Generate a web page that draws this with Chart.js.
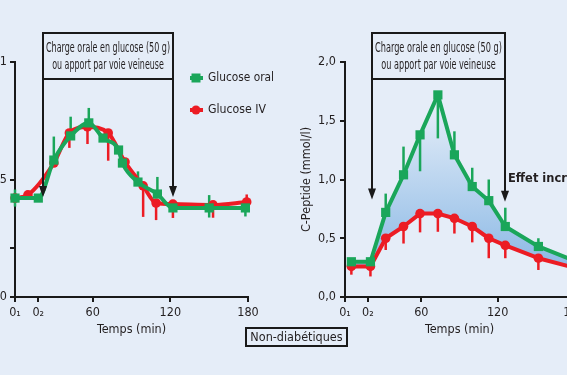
<!DOCTYPE html>
<html><head><meta charset="utf-8">
<script src="https://cdn.jsdelivr.net/npm/chart.js@4/dist/chart.umd.min.js"></script>
<style>
html,body{margin:0;padding:0;width:567px;height:375px;overflow:hidden;background:#e5edf8;}
#c1{position:absolute;left:-40px;top:0;}
#c2{position:absolute;left:290px;top:0;}
#nd{position:absolute;left:245px;top:327px;width:99px;height:16px;border:2px solid #1a1a1a;font:12.5px 'Liberation Sans Narrow','DejaVu Sans Condensed',sans-serif;color:#231f20;text-align:center;line-height:16px;}
</style></head><body>
<canvas id="c1" width="400" height="375"></canvas>
<canvas id="c2" width="304" height="375"></canvas>
<div id="nd">Non-diabétiques</div>
<script>
// ---------- DATA ----------
const X_TICKS = [0, 18, 60, 120, 180];
const X_TICK_LABELS = ['0\u2081', '0\u2082', '60', '120', '180'];

// Left panel: glucose (mmol/l, axis cropped)
const Y1_TICKS = [0, 2.3, 5.5, 11];
const Y1_LABELS = ['0', '', '5,5', '11'];
const T_ORAL_1 = [0, 18, 30, 43, 57, 68, 80, 83, 95, 110, 122, 150, 178];
const ORAL_1 = [4.63, 4.63, 6.41, 7.54, 8.15, 7.44, 6.88, 6.27, 5.38, 4.82, 4.17, 4.17, 4.17];
const ORAL_1_UP = [0.4, 0, 1.1, 0.9, 0.7, 0, 0, 0, 0.5, 0.8, 0, 0.6, 0.4];
const ORAL_1_DN = [0.4, 0, 0, 0, 0, 0, 0, 0, 0, 0, 0, 0.45, 0.4];
const T_IV_1 = [0, 10, 30, 42, 56, 72, 85, 99, 109, 122, 153, 179];
const IV_1 = [4.63, 4.78, 6.27, 7.68, 7.96, 7.68, 6.32, 5.20, 4.40, 4.35, 4.31, 4.45];
const IV_1_UP = [0, 0, 0, 0, 0, 0, 0, 0, 0, 0, 0, 0.35];
const IV_1_DN = [0, 0, 0, 0.7, 0.8, 1.3, 0, 1.45, 0.8, 0.65, 0.6, 0.45];

// Right panel: C-Peptide (mmol/l)
const T_2 = [5, 20, 32, 46, 59, 73, 86, 100, 113, 126, 152, 180];
const ORAL_2 = [0.30, 0.30, 0.72, 1.04, 1.38, 1.72, 1.21, 0.94, 0.82, 0.60, 0.43, 0.31];
const ORAL_2_UP = [0.03, 0, 0.16, 0.24, 0, 0, 0.20, 0.16, 0.18, 0.16, 0.07, 0];
const ORAL_2_DN = [0, 0, 0, 0, 0.31, 0.37, 0, 0, 0, 0, 0, 0];
const IV_2 = [0.26, 0.26, 0.50, 0.60, 0.71, 0.71, 0.67, 0.60, 0.50, 0.44, 0.33, 0.25];
const IV_2_UP = [0, 0, 0, 0, 0, 0, 0, 0, 0, 0, 0, 0];
const IV_2_DN = [0.07, 0.085, 0.10, 0.145, 0.16, 0.155, 0.13, 0.135, 0.17, 0.11, 0.10, 0];

const BOX_TEXT = ['Charge orale en glucose (50 g)', 'ou apport par voie veineuse'];
const LEGEND = ['Glucose oral', 'Glucose IV'];
const X_TITLE = 'Temps (min)';
const Y2_TITLE = 'C-Peptide (mmol/l)';
const EFFECT_TEXT = 'Effet incrétine';

// ---------- STYLE ----------
const FONT = "'Liberation Sans Narrow','DejaVu Sans Condensed',sans-serif";
const GREEN = '#1aa65a', RED = '#ec1c24', INK = '#1a1a1a', TXT = '#231f20';
Chart.defaults.font.family = FONT;
Chart.defaults.font.size = 12;
Chart.defaults.color = TXT;

const pts = (ts, vs) => ts.map((t, i) => ({x: t, y: vs[i]}));

function xScale() {
  return {
    type: 'linear', min: 0, max: 180,
    afterBuildTicks: s => { s.ticks = X_TICKS.map(v => ({value: v})); },
    afterFit: s => { s.height = 42; },
    ticks: {autoSkip: false, maxRotation: 0, padding: 3, font: {size: 12.5}, callback: v => { const i = X_TICKS.indexOf(v); return i >= 0 ? X_TICK_LABELS[i] : ''; }},
    grid: {drawOnChartArea: false, drawTicks: true, tickLength: 5, color: INK, lineWidth: 2},
    border: {display: true, color: INK, width: 2},
    title: {display: true, text: X_TITLE, padding: {top: 0, bottom: 2}, font: {size: 12.5}}
  };
}

function drawErrors(chart, errs) {
  const {ctx} = chart; const y = chart.scales.y;
  ctx.save(); ctx.lineWidth = 2.5; ctx.lineCap = 'butt';
  errs.forEach((e, di) => {
    const meta = chart.getDatasetMeta(di);
    const data = chart.data.datasets[di].data;
    ctx.strokeStyle = chart.data.datasets[di].borderColor;
    meta.data.forEach((p, j) => {
      const v = data[j].y;
      const top = y.getPixelForValue(v + (e.up[j] || 0));
      const bot = y.getPixelForValue(v - (e.dn[j] || 0));
      if (top === bot) return;
      ctx.beginPath(); ctx.moveTo(p.x, top); ctx.lineTo(p.x, bot); ctx.stroke();
    });
  });
  ctx.restore();
}

function drawBox(chart, t1, t2, tip1, tip2) {
  const {ctx, chartArea} = chart; const xs = chart.scales.x, ys = chart.scales.y;
  const x1 = Math.round(xs.getPixelForValue(t1)), x2 = Math.round(xs.getPixelForValue(t2));
  const top = chartArea.top - 29, bot = chartArea.top + 17;
  const y1 = ys.getPixelForValue(tip1), y2 = ys.getPixelForValue(tip2);
  ctx.save();
  ctx.strokeStyle = INK; ctx.fillStyle = INK; ctx.lineWidth = 2;
  ctx.beginPath();
  ctx.moveTo(x1, top); ctx.lineTo(x2, top);
  ctx.moveTo(x1, bot); ctx.lineTo(x2, bot);
  ctx.moveTo(x1, top - 1); ctx.lineTo(x1, y1 - 8);
  ctx.moveTo(x2, top - 1); ctx.lineTo(x2, y2 - 8);
  ctx.stroke();
  [[x1, y1], [x2, y2]].forEach(([ax, ay]) => {
    ctx.beginPath(); ctx.moveTo(ax - 4, ay - 11); ctx.lineTo(ax + 4, ay - 11); ctx.lineTo(ax, ay); ctx.closePath(); ctx.fill();
  });
  ctx.fillStyle = TXT; ctx.font = '14px ' + FONT; ctx.textAlign = 'center'; ctx.textBaseline = 'middle';
  const cx = (x1 + x2) / 2, mw = x2 - x1 - 6;
  ctx.fillText(BOX_TEXT[0], cx, top + 15, mw);
  ctx.fillText(BOX_TEXT[1], cx, top + 32, mw * 0.9);
  ctx.restore();
  return {x1, x2};
}

const errs1 = [{up: ORAL_1_UP, dn: ORAL_1_DN}, {up: IV_1_UP, dn: IV_1_DN}];
const errs2 = [{up: ORAL_2_UP, dn: ORAL_2_DN}, {up: IV_2_UP, dn: IV_2_DN}];

const plugin1 = {
  id: 'p1',
  beforeDatasetsDraw(chart) { drawErrors(chart, errs1); },
  afterDraw(chart) {
    const {x2} = drawBox(chart, 21.6, 122, 4.68, 4.68);
    const {ctx, chartArea} = chart;
    const lx = x2 + 23, ly1 = chartArea.top + 16, ly2 = chartArea.top + 48;
    ctx.save();
    ctx.lineWidth = 4;
    ctx.strokeStyle = GREEN; ctx.beginPath(); ctx.moveTo(lx - 6, ly1); ctx.lineTo(lx + 7, ly1); ctx.stroke();
    ctx.fillStyle = GREEN; ctx.fillRect(lx - 4.5, ly1 - 4.5, 9, 9);
    ctx.strokeStyle = RED; ctx.beginPath(); ctx.moveTo(lx - 6, ly2); ctx.lineTo(lx + 7, ly2); ctx.stroke();
    ctx.fillStyle = RED; ctx.beginPath(); ctx.arc(lx, ly2, 4.5, 0, Math.PI * 2); ctx.fill();
    ctx.fillStyle = TXT; ctx.font = '13px ' + FONT; ctx.textAlign = 'left'; ctx.textBaseline = 'middle';
    ctx.fillText(LEGEND[0], lx + 12, ly1, 66);
    ctx.fillText(LEGEND[1], lx + 12, ly2, 58);
    ctx.restore();
  }
};

const plugin2 = {
  id: 'p2',
  beforeDatasetsDraw(chart) { drawErrors(chart, errs2); },
  afterDraw(chart) {
    const {x2} = drawBox(chart, 21, 126, 0.83, 0.81);
    const {ctx} = chart;
    ctx.save();
    ctx.fillStyle = TXT; ctx.font = 'bold 13px ' + FONT; ctx.textAlign = 'left'; ctx.textBaseline = 'middle';
    ctx.fillText(EFFECT_TEXT, x2 + 3, chart.scales.y.getPixelForValue(1.01), 92);
    ctx.restore();
  }
};

const lineDs = (label, data, color, style, smooth, extra) => Object.assign({
  label, data, borderColor: color, backgroundColor: color, borderWidth: 4,
  pointStyle: style, pointRadius: style === 'rect' ? 6.5 : 4.8, pointHoverRadius: 0,
  pointBackgroundColor: color, pointBorderWidth: 0, borderJoinStyle: 'round',
  cubicInterpolationMode: smooth ? 'monotone' : 'default', tension: 0, fill: false, clip: false
}, extra || {});

new Chart(document.getElementById('c1'), {
  type: 'line',
  data: {datasets: [
    lineDs(LEGEND[0], pts(T_ORAL_1, ORAL_1), GREEN, 'rect', true),
    lineDs(LEGEND[1], pts(T_IV_1, IV_1), RED, 'circle', true)
  ]},
  options: {
    responsive: false, animation: false, events: [],
    layout: {padding: {top: 62, right: 112, bottom: 36, left: 0}},
    plugins: {legend: {display: false}, tooltip: {enabled: false}},
    scales: {
      x: xScale(),
      y: {
        type: 'linear', min: 0, max: 11,
        afterBuildTicks: s => { s.ticks = Y1_TICKS.map(v => ({value: v})); },
        afterFit: s => { s.width = 55; },
        ticks: {padding: 3, font: {size: 12.5}, callback: v => { const i = Y1_TICKS.indexOf(v); return i >= 0 ? Y1_LABELS[i] : ''; }},
        grid: {drawOnChartArea: false, drawTicks: true, tickLength: 5, color: INK, lineWidth: 2},
        border: {display: true, color: INK, width: 2}
      }
    }
  },
  plugins: [plugin1]
});

const fillGrad = (c) => {
  const chart = c.chart; const ca = chart.chartArea;
  if (!ca) return 'rgba(160,196,234,0.8)';
  const y = chart.scales.y;
  const g = chart.ctx.createLinearGradient(0, y.getPixelForValue(1.7), 0, y.getPixelForValue(0.3));
  g.addColorStop(0, '#e9f0f9');
  g.addColorStop(1, '#8fbbe6');
  return g;
};

new Chart(document.getElementById('c2'), {
  type: 'line',
  data: {datasets: [
    lineDs(LEGEND[0], pts(T_2, ORAL_2), GREEN, 'rect', false, {fill: '+1', backgroundColor: fillGrad}),
    lineDs(LEGEND[1], pts(T_2, IV_2), RED, 'circle', false)
  ]},
  options: {
    responsive: false, animation: false, events: [],
    layout: {padding: {top: 62, right: 20, bottom: 36, left: 0}},
    plugins: {legend: {display: false}, tooltip: {enabled: false}, filler: {propagate: false, drawTime: 'beforeDatasetsDraw'}},
    scales: {
      x: xScale(),
      y: {
        type: 'linear', min: 0, max: 2,
        afterFit: s => { s.width = 55; },
        ticks: {stepSize: 0.5, padding: 4, font: {size: 12.5}, callback: v => v.toFixed(1).replace('.', ',')},
        grid: {drawOnChartArea: false, drawTicks: true, tickLength: 5, color: INK, lineWidth: 2},
        border: {display: true, color: INK, width: 2},
        title: {display: true, text: Y2_TITLE, padding: {top: 9, bottom: 0}, font: {size: 12.5}}
      }
    }
  },
  plugins: [plugin2]
});
</script>
</body></html>
